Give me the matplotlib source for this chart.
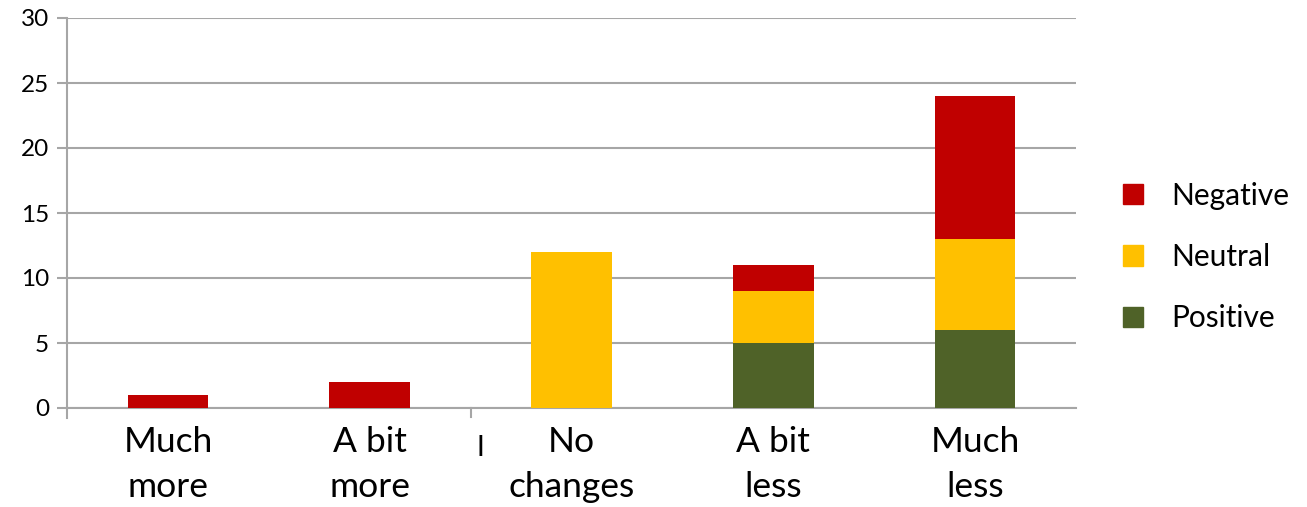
import numpy as np
import matplotlib.pyplot as plt
from matplotlib.patches import Patch

# data
categories = ["Much\nmore", "A bit\nmore", "No\nchanges", "A bit\nless", "Much\nless"]
positive = [0, 0, 0, 5, 6]
neutral = [0, 0, 12, 4, 7]
negative = [1, 2, 0, 2, 11]
y_ticks = [0, 5, 10, 15, 20, 25, 30]

C_NEG = "#C00000"
C_NEU = "#FFC000"
C_POS = "#4F6228"
GRID = "#A6A6A6"

plt.rcParams["font.family"] = ["Lato", "DejaVu Sans"]

fig = plt.figure(figsize=(13.07, 5.07), dpi=100)
ax = fig.add_axes([67 / 1307, 1 - 408 / 507, (1076 - 67) / 1307, (408 - 18) / 507])

x = np.arange(len(categories))
pos = np.array(positive)
neu = np.array(neutral)
neg = np.array(negative)
w = 0.4

ax.bar(x, pos, w, color=C_POS, zorder=3)
ax.bar(x, neu, w, bottom=pos, color=C_NEU, zorder=3)
ax.bar(x, neg, w, bottom=pos + neu, color=C_NEG, zorder=3)

ax.set_xlim(-0.5, len(categories) - 0.5)
ax.set_ylim(0, 30)
ax.set_yticks(y_ticks)
ax.yaxis.grid(True, color=GRID, linewidth=1.5, zorder=0)
ax.tick_params(axis="y", length=7, width=1.5, color=GRID, labelsize=17.5, pad=6)

ax.set_xticks(x)
ax.set_xticklabels(categories, fontsize=25.5, linespacing=1.5)
ax.tick_params(axis="x", length=0, pad=13)
# the one visible category boundary tick
ax.plot([1.5, 1.5], [0, -0.7], color=GRID, lw=1.5, clip_on=False, zorder=4)
ax.plot([-0.5, -0.5], [0, -0.8], color=GRID, lw=1.5, clip_on=False, zorder=4)
ax.text(1.55, -3.1, "I", fontsize=20, ha="center", va="center", clip_on=False)

for s in ["top", "right"]:
    ax.spines[s].set_visible(False)
for s in ["left", "bottom"]:
    ax.spines[s].set_color(GRID)
    ax.spines[s].set_linewidth(1.5)
ax.set_axisbelow(True)

handles = [Patch(color=C_NEG), Patch(color=C_NEU), Patch(color=C_POS)]
fig.legend(handles, ["Negative", "Neutral", "Positive"],
           loc="center left", bbox_to_anchor=(1108 / 1307, 1 - 257 / 507),
           frameon=False, fontsize=21.5, handlelength=0.68, handleheight=0.68,
           handletextpad=0.95, labelspacing=1.12, borderpad=0)

fig.savefig("out.png", dpi=100)
